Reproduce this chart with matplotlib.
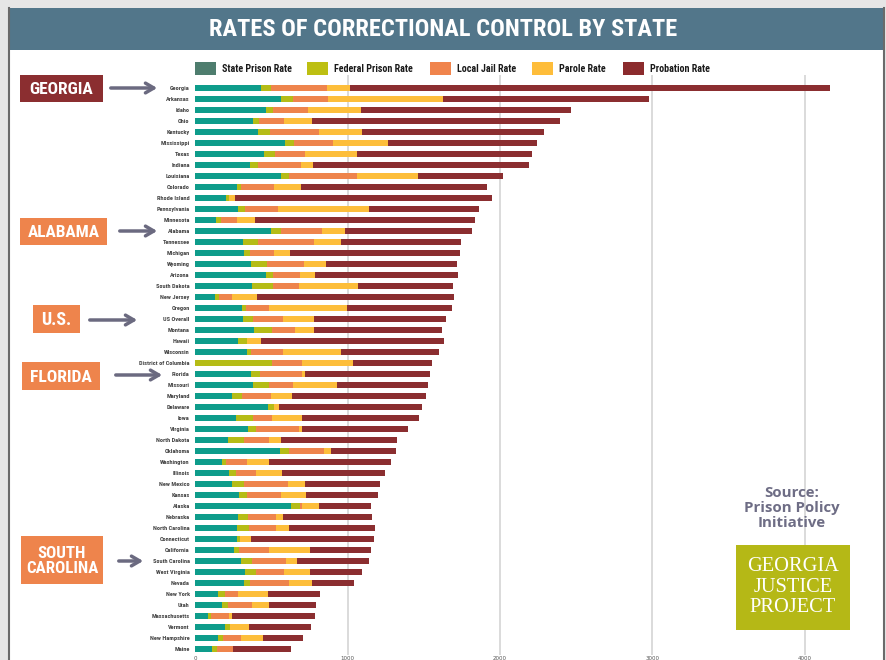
import os
import matplotlib
matplotlib.use("Agg")
import matplotlib.pyplot as plt
from matplotlib import font_manager as fm
from matplotlib.patches import Rectangle
import numpy as np

# rates per 100,000
states = ["Georgia", "Arkansas", "Idaho", "Ohio", "Kentucky", "Mississippi", "Texas",
          "Indiana", "Louisiana", "Colorado", "Rhode Island", "Pennsylvania", "Minnesota",
          "Alabama", "Tennessee", "Michigan", "Wyoming", "Arizona", "South Dakota",
          "New Jersey", "Oregon", "US Overall", "Montana", "Hawaii", "Wisconsin",
          "District of Columbia", "Florida", "Missouri", "Maryland", "Delaware", "Iowa",
          "Virginia", "North Dakota", "Oklahoma", "Washington", "Illinois", "New Mexico",
          "Kansas", "Alaska", "Nebraska", "North Carolina", "Connecticut", "California",
          "South Carolina", "West Virginia", "Nevada", "New York", "Utah", "Massachusetts",
          "Vermont", "New Hampshire", "Maine"]

state_prison = [431, 562, 464, 381, 411, 589, 451, 359, 562, 274, 201, 280, 136,
                497, 313, 319, 365, 464, 372, 131, 306, 313, 385, 280, 339,
                0, 365, 379, 241, 477, 267, 346, 214, 556, 175, 221, 241,
                287, 628, 280, 274, 274, 254, 300, 326, 319, 149, 175, 83,
                195, 149, 109]
federal_prison = [66, 79, 46, 37, 79, 59, 72, 52, 53, 26, 20, 46, 32,
                  65, 98, 40, 105, 46, 138, 24, 27, 66, 118, 59, 26,
                  503, 59, 105, 65, 39, 112, 52, 105, 59, 26, 46, 78,
                  52, 59, 66, 78, 19, 33, 72, 72, 40, 46, 39, 20,
                  33, 33, 33]
local_jail = [367, 230, 230, 164, 322, 256, 197, 283, 446, 216, 0, 217, 106,
              269, 368, 157, 243, 177, 170, 86, 151, 196, 151, 0, 210,
              197, 276, 157, 191, 0, 124, 282, 165, 230, 138, 131, 289,
              223, 13, 183, 177, 0, 197, 223, 184, 256, 85, 158, 118,
              0, 118, 105]
parole = [149, 752, 345, 182, 280, 358, 339, 76, 398, 178, 39, 597, 118,
          149, 177, 105, 143, 98, 388, 164, 512, 202, 123, 92, 381,
          333, 20, 289, 138, 33, 197, 20, 78, 46, 145, 171, 112,
          164, 112, 46, 86, 72, 269, 72, 171, 151, 197, 112, 20,
          124, 144, 0]
probation = [3152, 1357, 1382, 1629, 1194, 983, 1148, 1417, 558, 1223, 1685, 724, 1442,
             836, 788, 1116, 859, 937, 626, 1293, 687, 871, 840, 1201, 641,
             518, 818, 595, 877, 937, 770, 696, 762, 426, 798, 674, 494,
             471, 343, 587, 564, 810, 398, 473, 343, 275, 344, 306, 545,
             407, 263, 381]

series = [("State Prison Rate", state_prison, "#0E9C8B", "#4E7D6E"),
          ("Federal Prison Rate", federal_prison, "#B5BC16", "#BDBF12"),
          ("Local Jail Rate", local_jail, "#EE844C", "#F0844C"),
          ("Parole Rate", parole, "#FDBE3B", "#FEBD3A"),
          ("Probation Rate", probation, "#8B2E30", "#8B2B2D")]


# look for a condensed bold face, fall back to DejaVu Sans Bold
def find_font(cands, fallback):
    files = {os.path.basename(f.fname).lower(): f.fname for f in fm.fontManager.ttflist}
    for c in cands:
        if c.lower() in files:
            return files[c.lower()]
    for name, path in sorted(files.items()):
        if ("cond" in name or "narrow" in name) and "bold" in name and "italic" not in name:
            return path
    return fm.findfont(fallback)


cond_bold = find_font(["NotoSans-ExtraCondensedBold.ttf", "RobotoCondensed-Bold.ttf",
                       "NotoSans-CondensedBold.ttf", "LiberationSansNarrow-Bold.ttf",
                       "DejaVuSansCondensed-Bold.ttf"],
                      fm.FontProperties(family="DejaVu Sans", weight="bold"))
source_font = fm.findfont(fm.FontProperties(family=["Open Sans", "DejaVu Sans"], weight="bold"))
serif_font = fm.findfont(fm.FontProperties(family=["Liberation Serif", "DejaVu Serif"]))

W, H = 887, 660
fig = plt.figure(figsize=(W / 100, H / 100), dpi=100, facecolor="#E6E6E6")
renderer = fig.canvas.get_renderer()


def fit(t, target):
    w = t.get_window_extent(renderer).width
    t.set_fontsize(t.get_fontsize() * target / w)
    return t


def size_for(s, path, target):
    t = fig.text(0, 0, s, fontproperties=fm.FontProperties(fname=path, size=10))
    w = t.get_window_extent(renderer).width
    t.remove()
    return 10 * target / w


# background panel + banner (pixel coords)
bg = fig.add_axes([0, 0, 1, 1], zorder=0)
bg.set_xlim(0, W)
bg.set_ylim(H, 0)
bg.axis("off")
bg.add_patch(Rectangle((9, 8), 875, H, facecolor="white", edgecolor="none"))
bg.add_patch(Rectangle((9, 8), 875, 42, facecolor="#52768A", edgecolor="none"))
bg.plot([9, 9], [8, H], color="#6A6A6A", lw=1.5)
bg.plot([884, 884], [8, H], color="#6A6A6A", lw=1.5)

# bar chart
top_px, bot_px = 74.8, 654.5
ax = fig.add_axes([195.3 / W, 1 - bot_px / H, (881.1 - 195.3) / W, (bot_px - top_px) / H],
                  zorder=1)
ax.set_facecolor("none")
y = np.arange(len(states))
left = np.zeros(len(states))
for name, vals, col, _ in series:
    ax.barh(y, vals, left=left, height=0.58, color=col, zorder=2)
    left += np.array(vals)
ax.set_xlim(0, 4500)
ax.set_ylim(51.5, -1.2)
ax.set_yticks(y)
lab_size = min(size_for("District of Columbia", cond_bold, 50), 5.5)
ax.set_yticklabels(states, fontproperties=fm.FontProperties(fname=cond_bold, size=lab_size),
                   color="#444444")
ax.set_xticks([0, 1000, 2000, 3000, 4000])
ax.tick_params(axis="x", labelsize=4, colors="#555555", length=0, pad=1)
ax.tick_params(axis="y", length=0, pad=4)
for v in [1000, 2000, 3000, 4000]:
    ax.axvline(v, color="#D4D4D4", lw=1.2, zorder=1)
for s in ax.spines.values():
    s.set_visible(False)

# overlay: title, legend, callouts, source, logo
ov = fig.add_axes([0, 0, 1, 1], zorder=3)
ov.set_facecolor("none")
ov.set_xlim(0, W)
ov.set_ylim(H, 0)
ov.axis("off")

title = ov.text(443, 29, "RATES OF CORRECTIONAL CONTROL BY STATE", color="white",
                fontproperties=fm.FontProperties(fname=cond_bold, size=20),
                ha="center", va="center")
fit(title, 468)

leg_x = [195, 307, 430, 532, 623]
leg_size = size_for("State Prison Rate", cond_bold, 70)
for lx, (name, _, _, lcol) in zip(leg_x, series):
    ov.add_patch(Rectangle((lx, 62), 21, 13, facecolor=lcol, edgecolor="none"))
    ov.text(lx + 27, 68.5, name, color="#1A1A1A", va="center", ha="left",
            fontproperties=fm.FontProperties(fname=cond_bold, size=leg_size))

arrow_col = "#6B6A80"
callouts = [("GEORGIA", (20, 75, 83, 27), "#8B2E30", 64, 108, 160, 88),
            ("ALABAMA", (20, 218, 87, 27), "#EE844C", 72, 117, 160, 231),
            ("U.S.", (33, 305, 47, 28), "#EE844C", 30, 87, 140, 320),
            ("FLORIDA", (22, 362, 78, 28), "#EE844C", 62, 113, 165, 375),
            ("SOUTH\nCAROLINA", (21, 536, 82, 48), "#EE844C", 72, 116, 146, 561)]
for label, (bx, by, bw, bh), col, tw, ax0, ax1, ay in callouts:
    ov.add_patch(Rectangle((bx, by), bw, bh, facecolor=col, edgecolor="none"))
    t = ov.text(bx + bw / 2, by + bh / 2 + 1, label, color="white", ha="center",
                va="center", linespacing=1.0,
                fontproperties=fm.FontProperties(fname=cond_bold, size=13))
    fit(t, tw)
    ov.annotate("", xy=(ax1, ay), xytext=(ax0, ay),
                arrowprops=dict(arrowstyle="->,head_width=0.35,head_length=0.6",
                                color=arrow_col, lw=2.5))

src_size = size_for("Prison Policy", source_font, 96)
ov.text(792, 508, "Source:\nPrison Policy\nInitiative", color="#6E6D85", ha="center",
        va="center", linespacing=1.1,
        fontproperties=fm.FontProperties(fname=source_font, size=src_size))
ov.add_patch(Rectangle((736, 545), 114, 85, facecolor="#B5B816", edgecolor="none"))
logo_size = size_for("GEORGIA", serif_font, 92)
ov.text(793, 587, "GEORGIA\nJUSTICE\nPROJECT", color="white", ha="center", va="center",
        linespacing=1.12, fontproperties=fm.FontProperties(fname=serif_font, size=logo_size))

fig.savefig("out.png", dpi=100, facecolor=fig.get_facecolor())
